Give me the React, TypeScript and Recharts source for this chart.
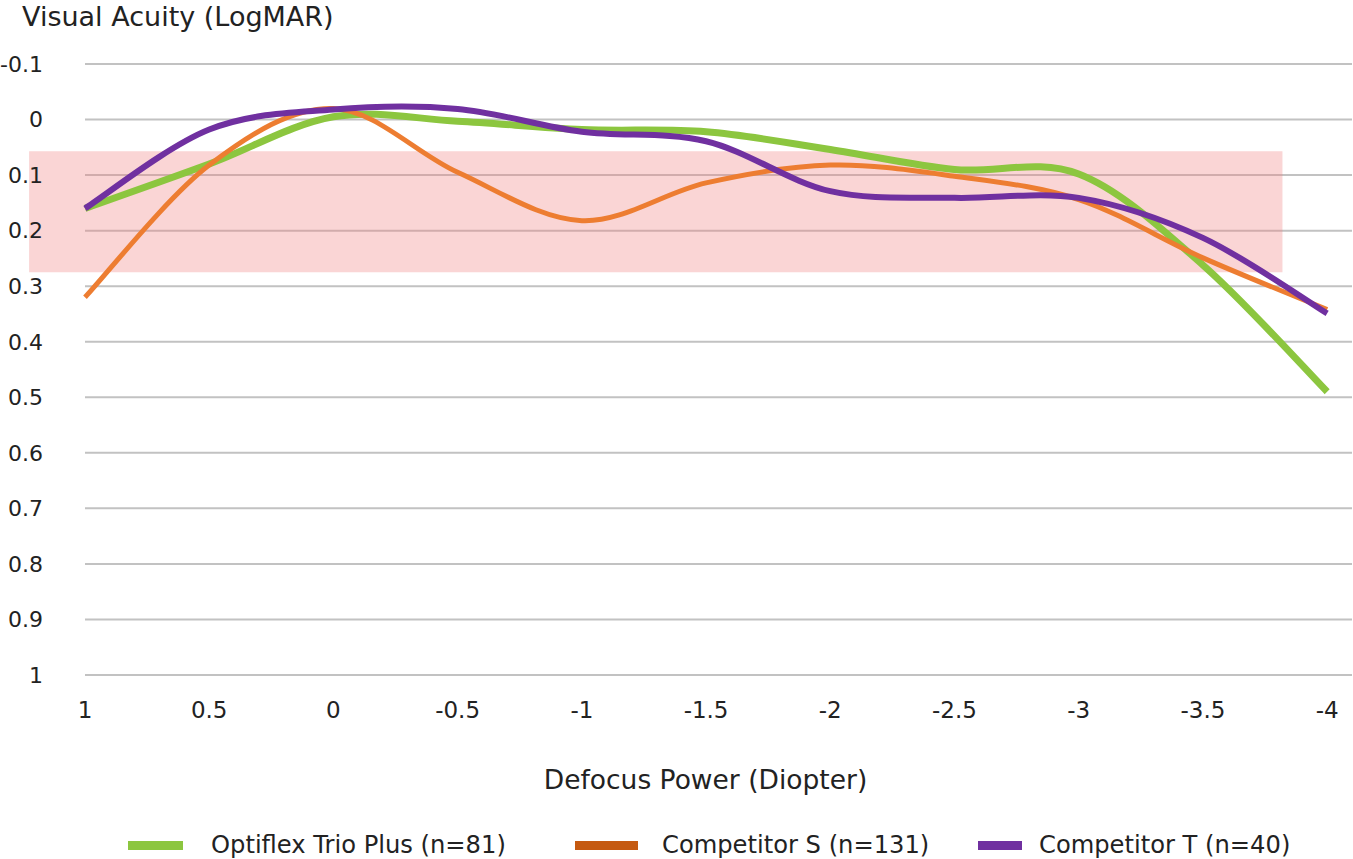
import {
  LineChart,
  Line,
  XAxis,
  YAxis,
  CartesianGrid,
  ReferenceArea,
  Legend,
  Label,
} from "recharts";

const defocus = [1, 0.5, 0, -0.5, -1, -1.5, -2, -2.5, -3, -3.5, -4];
const optiflex = [0.16, 0.08, -0.005, 0.003, 0.018, 0.022, 0.054, 0.09, 0.098, 0.262, 0.49];
const competitorS = [0.32, 0.082, -0.02, 0.095, 0.182, 0.114, 0.082, 0.102, 0.144, 0.249, 0.342];
const competitorT = [0.16, 0.018, -0.018, -0.019, 0.022, 0.039, 0.129, 0.141, 0.141, 0.213, 0.349];

const acuityTicks = [-0.1, 0, 0.1, 0.2, 0.3, 0.4, 0.5, 0.6, 0.7, 0.8, 0.9, 1];
const seriesNames = [
  "Optiflex Trio Plus (n=81)",
  "Competitor S (n=131)",
  "Competitor T (n=40)",
];
// shaded band (defocus from / to, acuity from / to)
const bandDefocus = [1.225, -3.82];
const bandAcuity = [0.057, 0.275];

const lineColors = ["#8CC63F", "#ED7D31", "#7030A0"];
const legendColors = ["#8CC63F", "#C55A11", "#7030A0"];
const lineWidths = [7, 5, 6];
const FONT = "'DejaVu Sans', sans-serif";
const TEXT = "#222222";

const data = defocus.map((d, i) => ({
  defocus: d,
  optiflex: optiflex[i],
  s: competitorS[i],
  t: competitorT[i],
}));
const keys = ["optiflex", "s", "t"];

// excel style smoothed line (catmull-rom through every point)
const excelSmooth = (ctx: any) => {
  let xs: number[] = [];
  let ys: number[] = [];
  return {
    areaStart() {},
    areaEnd() {},
    lineStart() {
      xs = [];
      ys = [];
    },
    point(x: number, y: number) {
      xs.push(+x);
      ys.push(+y);
    },
    lineEnd() {
      const n = xs.length;
      if (!n) return;
      ctx.moveTo(xs[0], ys[0]);
      for (let i = 0; i < n - 1; i++) {
        const a = Math.max(i - 1, 0);
        const b = Math.min(i + 2, n - 1);
        ctx.bezierCurveTo(
          xs[i] + (xs[i + 1] - xs[a]) / 6,
          ys[i] + (ys[i + 1] - ys[a]) / 6,
          xs[i + 1] - (xs[b] - xs[i]) / 6,
          ys[i + 1] - (ys[b] - ys[i]) / 6,
          xs[i + 1],
          ys[i + 1]
        );
      }
    },
  };
};

const legendLeft = [128, 575, 978];
const swatchWidth = [55, 63, 44];
const swatchGap = [28, 24, 17];

const LegendRow = () => (
  <div style={{ position: "relative", height: 30, fontFamily: FONT }}>
    {seriesNames.map((name, i) => (
      <div
        key={name}
        style={{
          position: "absolute",
          left: legendLeft[i],
          top: 0,
          height: 30,
          display: "flex",
          alignItems: "center",
          whiteSpace: "nowrap",
        }}
      >
        <span
          style={{
            display: "inline-block",
            width: swatchWidth[i],
            height: 9,
            background: legendColors[i],
            marginRight: swatchGap[i],
          }}
        />
        <span style={{ fontSize: 24.2, color: TEXT }}>{name}</span>
      </div>
    ))}
  </div>
);

export default function App() {
  return (
    <div
      style={{
        position: "absolute",
        left: 0,
        top: 0,
        width: 1353,
        height: 859,
        background: "#fff",
        fontFamily: FONT,
      }}
    >
      <div
        style={{
          position: "absolute",
          left: 22,
          top: 3,
          fontSize: 27,
          lineHeight: "27px",
          color: TEXT,
          whiteSpace: "nowrap",
          zIndex: 2,
        }}
      >
        Visual Acuity (LogMAR)
      </div>
      <LineChart
        width={1353}
        height={859}
        data={data}
        margin={{ top: 64, right: 1, left: 0, bottom: 0 }}
        style={{ fontFamily: FONT }}
      >
        <CartesianGrid vertical={false} stroke="#C2C2C2" strokeWidth={2} />
        <ReferenceArea
          x1={bandDefocus[0]}
          x2={bandDefocus[1]}
          y1={bandAcuity[0]}
          y2={bandAcuity[1]}
          fill="#F08080"
          fillOpacity={0.33}
          stroke="none"
          ifOverflow="visible"
        />
        <XAxis
          type="number"
          dataKey="defocus"
          domain={[-4.1, 1]}
          reversed
          ticks={defocus}
          interval={0}
          axisLine={false}
          tickLine={false}
          tickSize={0}
          tickMargin={27}
          height={184}
          tick={{ fontSize: 23, fill: TEXT }}
        >
          <Label
            value="Defocus Power (Diopter)"
            position="insideTop"
            offset={95}
            dx={-13}
            style={{ fontSize: 26.5, fill: TEXT }}
          />
        </XAxis>
        <YAxis
          type="number"
          domain={[-0.1, 1]}
          reversed
          ticks={acuityTicks}
          interval={0}
          axisLine={false}
          tickLine={false}
          tickSize={0}
          tickMargin={42}
          width={85}
          tick={{ fontSize: 22, fill: TEXT }}
        />
        {keys.map((k, i) => (
          <Line
            key={k}
            dataKey={k}
            name={seriesNames[i]}
            type={excelSmooth as any}
            stroke={lineColors[i]}
            strokeWidth={lineWidths[i]}
            dot={false}
            activeDot={false}
            isAnimationActive={false}
          />
        ))}
        <Legend
          verticalAlign="middle"
          align="center"
          wrapperStyle={{ left: 0, top: 830, width: 1353 }}
          content={() => <LegendRow />}
        />
      </LineChart>
    </div>
  );
}
